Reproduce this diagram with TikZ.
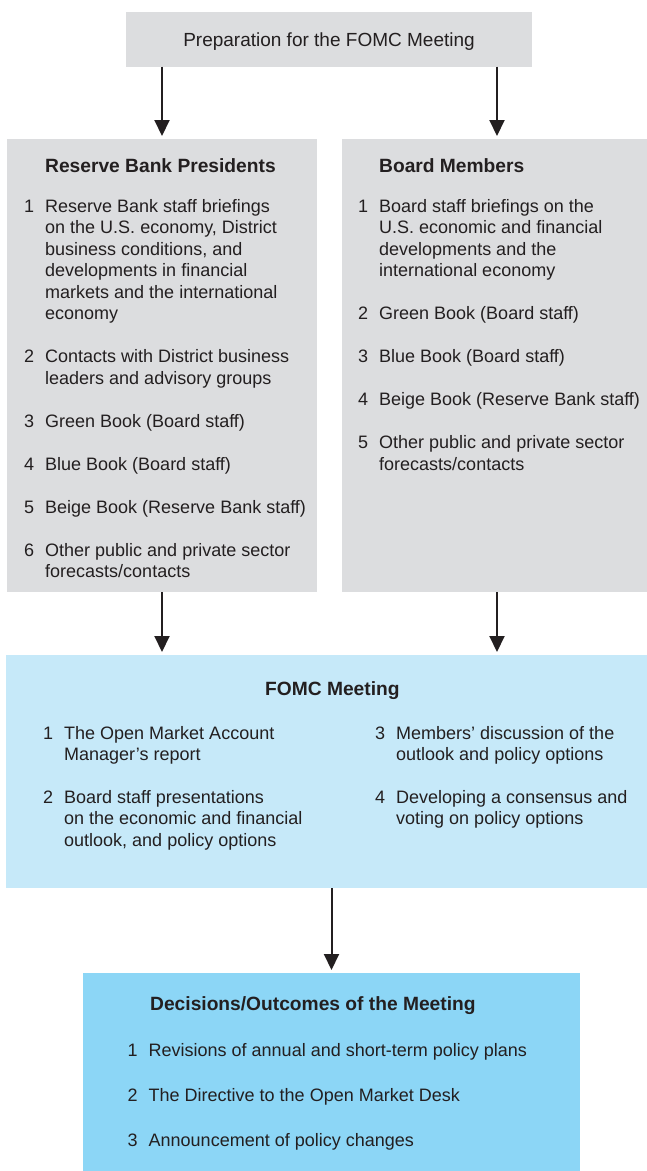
\documentclass[tikz,border=0pt]{standalone}
\usepackage{fontspec}
\setmainfont{Liberation Sans}
\usetikzlibrary{arrows.meta}

\definecolor{inkgray}{HTML}{231F20}
\definecolor{prepgray}{HTML}{DCDDDF}
\definecolor{meetblue}{HTML}{C6E9F9}
\definecolor{outblue}{HTML}{8CD6F6}

% numbered entry: number column, then the wrapped lines of the entry
\newcommand\entryrows[1]{\begin{tabular}[t]{@{}r@{\hspace{11pt}}l@{}}#1\end{tabular}}

\begin{document}
\begin{tikzpicture}[x=1pt,y=-1pt,
  panel/.style={draw=none,inner sep=0pt,outer sep=0pt},
  headtext/.style={inner sep=0pt,anchor=base west,text=inkgray,
    font=\fontsize{19.2}{23}\selectfont\bfseries},
  bodytext/.style={inner sep=0pt,anchor=base west,text=inkgray,
    font=\fontsize{18}{21.5}\selectfont},
  flow/.style={draw=inkgray,line width=2pt,
    -{Triangle[width=15pt,length=16pt]},shorten >=3pt}]

\useasboundingbox (0,0) rectangle (647,1171);

% boxes
\node[panel,fill=prepgray,minimum width=406pt,minimum height=55pt] (prep) at (329,39) {};
\node[panel,fill=prepgray,minimum width=310pt,minimum height=453pt] (rbp) at (162,365.5) {};
\node[panel,fill=prepgray,minimum width=310pt,minimum height=453pt] (bm) at (497,365.5) {};
\node[panel,fill=meetblue,minimum width=646pt,minimum height=233pt] (fomc) at (329,771.5) {};
\node[panel,fill=outblue,minimum width=497pt,minimum height=204pt] (dec) at (331.5,1075) {};

% connectors
\draw[flow] (prep.south -| rbp.north) -- (rbp.north);
\draw[flow] (prep.south -| bm.north) -- (bm.north);
\draw[flow] (rbp.south) -- (fomc.north -| rbp.south);
\draw[flow] (bm.south) -- (fomc.north -| bm.south);
\draw[flow] (fomc.south -| dec.north) -- (dec.north);

% preparation title
\node[inner sep=0pt,anchor=base,text=inkgray,font=\fontsize{19}{23}\selectfont]
  (preptitle) at (329,46.5) {Preparation for the FOMC Meeting};

% Reserve Bank Presidents
\node[headtext] (rbphead) at (45,172) {Reserve Bank Presidents};
\node[bodytext] (rbp1) at (24,212) {\entryrows{1 & Reserve Bank staff briefings\\
  & on the U.S. economy, District\\ & business conditions, and\\
  & developments in financial\\ & markets and the international\\ & economy}};
\node[bodytext] (rbp2) at (24,362.5) {\entryrows{2 & Contacts with District business\\
  & leaders and advisory groups}};
\node[bodytext] (rbp3) at (24,427) {\entryrows{3 & Green Book (Board staff)}};
\node[bodytext] (rbp4) at (24,470) {\entryrows{4 & Blue Book (Board staff)}};
\node[bodytext] (rbp5) at (24,513) {\entryrows{5 & Beige Book (Reserve Bank staff)}};
\node[bodytext] (rbp6) at (24,556) {\entryrows{6 & Other public and private sector\\
  & forecasts/contacts}};

% Board Members
\node[headtext] (bmhead) at (379,172) {Board Members};
\node[bodytext] (bm1) at (358,212) {\entryrows{1 & Board staff briefings on the\\
  & U.S. economic and financial\\ & developments and the\\ & international economy}};
\node[bodytext] (bm2) at (358,319.5) {\entryrows{2 & Green Book (Board staff)}};
\node[bodytext] (bm3) at (358,362.5) {\entryrows{3 & Blue Book (Board staff)}};
\node[bodytext] (bm4) at (358,405.5) {\entryrows{4 & Beige Book (Reserve Bank staff)}};
\node[bodytext] (bm5) at (358,448.5) {\entryrows{5 & Other public and private sector\\
  & forecasts/contacts}};

% FOMC Meeting
\node[headtext] (fomchead) at (265,695) {FOMC Meeting};
\node[bodytext] (fomc1) at (43,739) {\entryrows{1 & The Open Market Account\\
  & Manager’s report}};
\node[bodytext] (fomc2) at (43,803) {\entryrows{2 & Board staff presentations\\
  & on the economic and financial\\ & outlook, and policy options}};
\node[bodytext] (fomc3) at (375,739) {\entryrows{3 & Members’ discussion of the\\
  & outlook and policy options}};
\node[bodytext] (fomc4) at (375,803) {\entryrows{4 & Developing a consensus and\\
  & voting on policy options}};

% Decisions/Outcomes
\node[headtext] (dechead) at (150,1010) {Decisions/Outcomes of the Meeting};
\node[bodytext] (dec1) at (127.5,1056) {\entryrows{1 & Revisions of annual and short-term policy plans}};
\node[bodytext] (dec2) at (127.5,1101) {\entryrows{2 & The Directive to the Open Market Desk}};
\node[bodytext] (dec3) at (127.5,1146) {\entryrows{3 & Announcement of policy changes}};
\end{tikzpicture}
\end{document}
